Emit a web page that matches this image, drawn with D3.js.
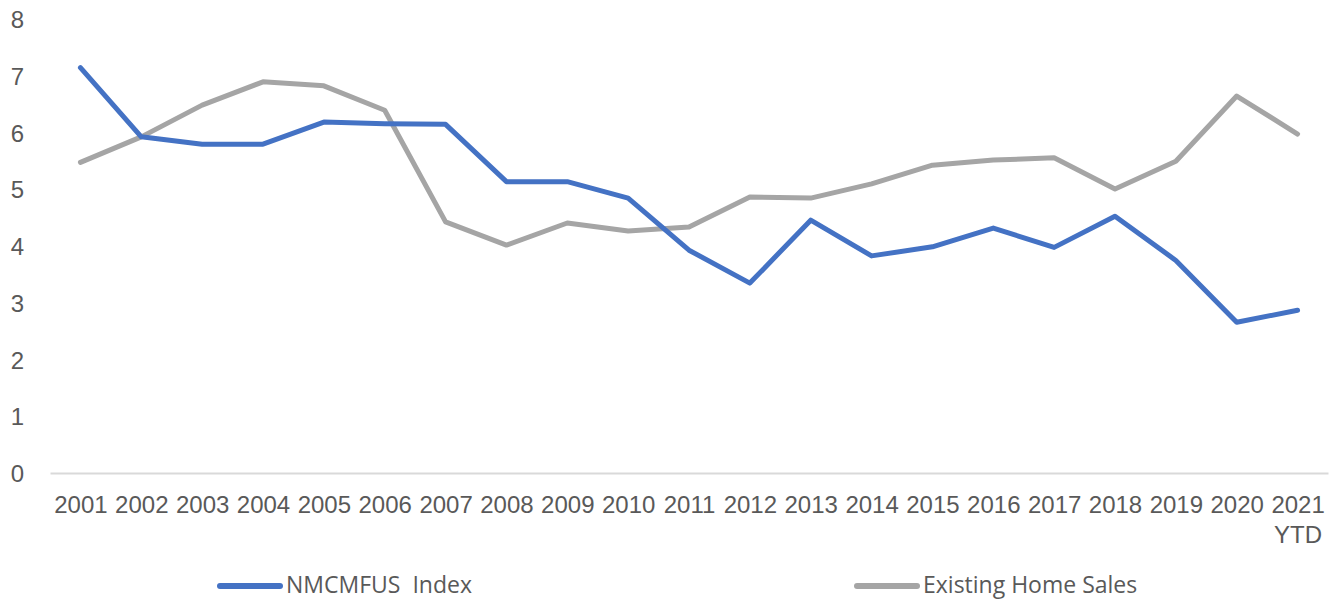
<!DOCTYPE html>
<html>
<head>
<meta charset="utf-8">
<script src="https://cdn.jsdelivr.net/npm/d3@7"></script>
<style>
  body { margin: 0; background: #fff; }
  svg { display: block; font-family: "Open Sans", sans-serif; }
  .axis text { fill: #595959; font-size: 24px; }
  .legend text { fill: #595959; font-size: 23px; white-space: pre; }
</style>
</head>
<body>
<script>
// chart data
const years = ["2001", "2002", "2003", "2004", "2005", "2006", "2007", "2008", "2009", "2010",
  "2011", "2012", "2013", "2014", "2015", "2016", "2017", "2018", "2019", "2020", "2021 YTD"];
const nmcmfus = [7.15, 5.93, 5.80, 5.80, 6.19, 6.16, 6.15, 5.14, 5.14, 4.85,
  3.93, 3.35, 4.46, 3.83, 3.99, 4.32, 3.98, 4.53, 3.75, 2.66, 2.87];
const homeSales = [5.48, 5.93, 6.49, 6.90, 6.83, 6.40, 4.43, 4.02, 4.41, 4.27,
  4.34, 4.87, 4.85, 5.10, 5.43, 5.52, 5.56, 5.01, 5.50, 6.65, 5.98];
const yTicks = [0, 1, 2, 3, 4, 5, 6, 7, 8];
const seriesNames = ["NMCMFUS  Index", "Existing Home Sales"];

const W = 1338, H = 601;
const plot = { left: 50, right: 1328, top: 19.5, bottom: 473 };

const svg = d3.select("body").append("svg")
  .attr("width", W)
  .attr("height", H);

const x = d3.scalePoint().domain(years).range([plot.left, plot.right]).padding(0.5);
const y = d3.scaleLinear().domain([0, 8]).range([plot.bottom, plot.top]);

// y axis labels only
const yAxis = svg.append("g")
  .attr("class", "axis")
  .attr("transform", "translate(24,0)")
  .call(d3.axisLeft(y).tickValues(yTicks).tickSize(0).tickPadding(0));
yAxis.select(".domain").remove();
yAxis.selectAll("text").attr("dy", "0.35em");

// x axis
const xAxis = svg.append("g")
  .attr("class", "axis")
  .attr("transform", `translate(0,${plot.bottom})`)
  .call(d3.axisBottom(x).tickSize(0).tickSizeOuter(0).tickPadding(23));
xAxis.select(".domain")
  .attr("stroke", "#d9d9d9")
  .attr("stroke-width", 2);
xAxis.selectAll(".tick text").each(function (d) {
  const t = d3.select(this);
  const parts = d.split(" ");
  t.text(null);
  parts.forEach((p, i) => {
    t.append("tspan").attr("x", 0).attr("dy", i === 0 ? "0.71em" : "1.25em").text(p);
  });
});

// lines
const line = d3.line()
  .x((d, i) => x(years[i]))
  .y(d => y(d));

svg.append("path")
  .datum(homeSales)
  .attr("fill", "none")
  .attr("stroke", "#a5a5a5")
  .attr("stroke-width", 5)
  .attr("stroke-linejoin", "round")
  .attr("stroke-linecap", "round")
  .attr("d", line);

svg.append("path")
  .datum(nmcmfus)
  .attr("fill", "none")
  .attr("stroke", "#4472c4")
  .attr("stroke-width", 5)
  .attr("stroke-linejoin", "round")
  .attr("stroke-linecap", "round")
  .attr("d", line);

// legend
const legendItems = [
  { name: seriesNames[0], color: "#4472c4", x: 218 },
  { name: seriesNames[1], color: "#a5a5a5", x: 855 }
];
const legend = svg.append("g").attr("class", "legend");
legendItems.forEach(item => {
  const g = legend.append("g").attr("transform", `translate(${item.x},586)`);
  g.append("line")
    .attr("x1", 2).attr("x2", 62)
    .attr("stroke", item.color)
    .attr("stroke-width", 6)
    .attr("stroke-linecap", "round");
  g.append("text")
    .attr("x", 68)
    .attr("y", -1)
    .attr("dy", "0.35em")
    .attr("xml:space", "preserve")
    .text(item.name);
});
</script>
</body>
</html>
